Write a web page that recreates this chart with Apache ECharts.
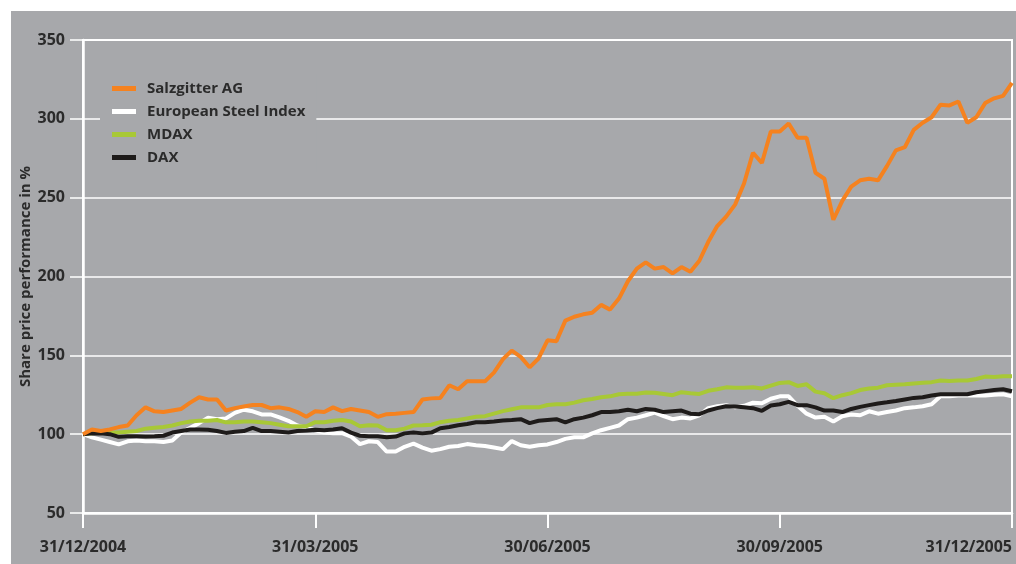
<!DOCTYPE html>
<html>
<head>
<meta charset="utf-8">
<script src="https://cdn.jsdelivr.net/npm/echarts@6/dist/echarts.min.js"></script>
<style>
  html, body { margin: 0; padding: 0; background: #ffffff; }
  #chart { position: absolute; left: 11px; top: 11px; width: 1005px; height: 553px; background: #a7a8ab; }
</style>
</head>
<body>
<div id="chart"></div>
<script>
// x positions in weeks since 31/12/2004 (half-week steps)
var weeks = Array.from({ length: 105 }, function (_, i) { return i / 2; });
var tickLabels = ['31/12/2004', '31/03/2005', '30/06/2005', '30/09/2005', '31/12/2005'];
var seriesNames = ['Salzgitter AG', 'European Steel Index', 'MDAX', 'DAX'];

var salzgitter = [100, 103, 102, 103, 104.5, 105.5, 112, 117, 114.5, 114, 115, 116, 120, 123.4, 122, 122,
  115, 116.5, 117.5, 118.5, 118.5, 116.5, 117, 116, 114, 111, 114.5, 114, 117, 114.6, 116, 115,
  114, 111, 112.7, 113, 113.5, 114, 122, 122.7, 123, 131, 128.5, 133.5, 133.5, 133.5, 139, 147.5,
  153, 149, 142.4, 148, 159.5, 159, 172, 174.5, 176, 177, 182, 179, 186, 197, 205, 209,
  205, 206, 202, 206, 203, 210, 222, 232, 238, 245.6, 259, 278.5, 272, 292, 292, 297, 288,
  288, 265.8, 262, 236, 248, 257, 261, 262, 261, 270, 280, 282, 293, 297.5, 301, 309, 308.5,
  311, 297.5, 301, 310, 313, 314.6, 322.8];

var steelIndex = [100, 98, 96.5, 95, 93.5, 95.5, 96, 95.5, 95.5, 95, 96, 101, 104, 107, 110.5, 109.5,
  110, 113.5, 115.5, 114.5, 112.5, 112.5, 110.7, 108.5, 105.5, 104, 102.5, 101, 100.6, 100.6, 98.5, 93.7,
  95.5, 95, 89, 89, 92, 94, 91.5, 89.5, 90.5, 92, 92.5, 93.7, 93, 92.5, 91.5, 90.5,
  95.6, 93, 92, 93, 93.5, 95, 97, 98, 98, 100.5, 102.5, 104, 105.5, 109.5, 110.5, 112,
  113.7, 111.5, 109.5, 110.5, 110, 112, 116.5, 117.7, 118.4, 117, 118, 120, 119.6, 122.5, 124, 124,
  118, 113, 110.5, 111, 108, 111.4, 112.5, 112, 114.5, 113, 114, 115, 116.5, 117, 117.7, 119,
  124, 124, 124.5, 124.5, 124.5, 124.5, 125, 125.3, 124];

var mdax = [100, 100.5, 101, 101, 101, 101.5, 102, 103.5, 104, 104.5, 105.5, 107, 108, 108.5, 108.5, 109,
  107.5, 107.5, 108, 108, 107.6, 107, 106, 105, 105, 105, 107.6, 107.6, 108.5, 109, 108, 105,
  105.7, 105.5, 102.5, 102.5, 103.5, 105.5, 105.7, 106, 107.6, 108.5, 109, 110, 111, 111.4, 113, 114.6,
  115.8, 117, 117, 117, 118.5, 119, 119, 120, 121.5, 122.3, 123.4, 124, 125.3, 125.6, 125.6, 126.4,
  126.3, 125.5, 124.7, 126.6, 126, 125.5, 127.5, 128.5, 129.7, 129.5, 129.5, 129.7, 129, 130.8, 132.5, 133,
  130.6, 131.6, 127, 126, 122.8, 124.7, 126, 128, 129, 129.5, 131, 131.3, 131.6, 132.2, 132.6, 133,
  134, 133.7, 134, 134, 135, 136.5, 136.3, 136.7, 136.7];

var dax = [100, 100.5, 100.5, 100, 98.3, 98.7, 98.7, 98.5, 98.7, 99, 101, 102, 103, 103, 102.8, 102,
  100.8, 101.5, 102, 104, 102, 102, 101.5, 101, 102, 102.3, 102.8, 102.5, 103, 103.8, 101, 99,
  98.7, 98.7, 98, 98.5, 100.5, 101, 100.5, 101, 103.8, 104.5, 105.7, 106.5, 107.6, 107.6, 108, 108.6,
  109, 109.5, 107, 108.5, 109, 109.5, 107.5, 109.5, 110.5, 112, 114, 114, 114.5, 115.5, 114.5, 116,
  115.5, 114, 114.5, 115, 113, 112.7, 115, 116.5, 117.7, 117.5, 117, 116.5, 114.8, 118.2, 119, 120.5,
  118.4, 118.4, 117, 115, 115, 114, 116, 117.3, 118.4, 119.5, 120.2, 121, 122, 123, 123.4, 124.5,
  125.3, 125.3, 125.3, 125.3, 126.6, 127.3, 128, 128.5, 127.2];

function pairs(values) {
  return values.map(function (v, i) { return [weeks[i], v]; });
}

var chart = echarts.init(document.getElementById('chart'), null, { renderer: 'canvas' });
var textColor = '#2b2b2b';
var font = "'Open Sans', sans-serif";

var option = {
  backgroundColor: 'transparent',
  animation: false,
  textStyle: { fontFamily: font },
  grid: {
    left: 72, top: 29, right: 4, bottom: 51,
    outerBoundsMode: 'none', containLabel: false,
    show: true, borderColor: '#ffffff', borderWidth: 2, backgroundColor: 'transparent'
  },
  legend: {
    orient: 'vertical',
    left: 89, top: 63,
    padding: [6, 11, 6, 12],
    backgroundColor: '#a7a8ab',
    itemWidth: 24, itemHeight: 5, itemGap: 6,
    icon: 'rect',
    data: seriesNames,
    textStyle: { color: textColor, fontSize: 15, fontWeight: 'bold', fontFamily: font, lineHeight: 17, padding: [0, 0, 0, 6] }
  },
  xAxis: {
    type: 'value',
    min: 0, max: 52, interval: 13,
    axisLine: { show: true, lineStyle: { color: '#ffffff', width: 2.5 } },
    axisTick: { show: true, length: 15, lineStyle: { color: '#ffffff', width: 2 } },
    splitLine: { show: false },
    axisLabel: {
      margin: 26, color: textColor, fontSize: 16, fontWeight: 'bold', fontFamily: font,
      alignMaxLabel: 'right',
      formatter: function (v) { return tickLabels[Math.round(v / 13)] || ''; }
    }
  },
  yAxis: {
    type: 'value',
    min: 50, max: 350, interval: 50,
    name: 'Share price performance in %',
    nameLocation: 'middle', nameGap: 50, nameRotate: 90, nameMoveOverlap: false,
    nameTextStyle: { color: textColor, fontSize: 15, fontWeight: 'bold', fontFamily: font },
    axisLine: { show: true, lineStyle: { color: '#ffffff', width: 2.5 } },
    axisTick: { show: true, length: 13, lineStyle: { color: '#ffffff', width: 1.5 } },
    splitLine: { show: true, lineStyle: { color: '#ffffff', width: 1.5 } },
    axisLabel: { margin: 18, color: textColor, fontSize: 16, fontWeight: 'bold', fontFamily: font }
  },
  series: [
    { name: 'European Steel Index', type: 'line', data: pairs(steelIndex), showSymbol: false, color: '#ffffff', lineStyle: { width: 4, color: '#ffffff' } },
    { name: 'MDAX', type: 'line', data: pairs(mdax), showSymbol: false, color: '#a8c836', lineStyle: { width: 4, color: '#a8c836' } },
    { name: 'DAX', type: 'line', data: pairs(dax), showSymbol: false, color: '#1e1b1a', lineStyle: { width: 4, color: '#1e1b1a' } },
    { name: 'Salzgitter AG', type: 'line', data: pairs(salzgitter), showSymbol: false, color: '#f5821f', lineStyle: { width: 4, color: '#f5821f' } }
  ]
};
chart.setOption(option);
</script>
</body>
</html>
